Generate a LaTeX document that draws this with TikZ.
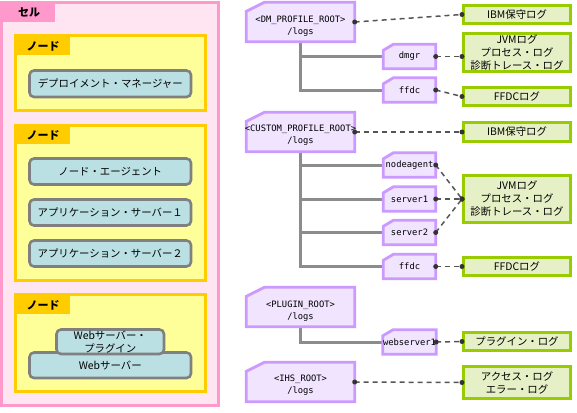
\documentclass[tikz,border=0pt]{standalone}
\usepackage{fontspec}
\setmainfont{Noto Sans CJK JP}
\newfontfamily\monof{DejaVu Sans Mono}
\definecolor{cellbg}{HTML}{FFE4F1}
\definecolor{cellbd}{HTML}{FF99CC}
\definecolor{nodebg}{HTML}{FFFF99}
\definecolor{nodebd}{HTML}{FFCC00}
\definecolor{compbg}{HTML}{BBE0E3}
\definecolor{compbd}{HTML}{808080}
\definecolor{foldbg}{HTML}{F0E4FF}
\definecolor{foldbd}{HTML}{CC99FF}
\definecolor{logbg}{HTML}{E6F0C6}
\definecolor{logbd}{HTML}{99CC00}
\definecolor{treec}{HTML}{8C8C8C}
\definecolor{dashcol}{HTML}{555555}
\definecolor{dotcol}{HTML}{333333}
\pgfdeclarelayer{bg}
\pgfdeclarelayer{fold}
\pgfsetlayers{bg,fold,main}
\tikzset{
  jp/.style={font=\fontsize{10.4}{13}\selectfont},
  cellbox/.style={draw=cellbd, fill=cellbg, line width=3pt, inner sep=0pt},
  tabbox/.style={inner sep=0pt, font=\bfseries\fontsize{11}{13}\selectfont},
  nodebox/.style={draw=nodebd, fill=nodebg, line width=3pt, inner sep=0pt},
  comp/.style={draw=compbd, fill=compbg, line width=2.6pt, rounded corners=4.5pt, inner sep=0pt, minimum width=161.5pt, jp, align=center},
  fnode/.style={inner sep=0pt},
  ftext/.style={inner sep=0pt, align=center, font=\monof\fontsize{8.8}{12}\selectfont},
  folderline/.style={draw=foldbd, fill=foldbg, line width=2.8pt},
  logbox/.style={draw=logbd, fill=logbg, line width=3pt, inner sep=0pt, minimum width=107pt, jp, align=center},
  tree/.style={draw=treec, line width=3pt},
  dashc/.style={draw=dashcol, line width=1.5pt, dash pattern=on 5pt off 4pt},
  dotc/.style={fill=dotcol},
}
\newcommand\bigfolder[1]{\begin{pgfonlayer}{fold}\draw[folderline] (#1.south west) -- ([yshift=-9pt]#1.north west) -- ([xshift=18pt]#1.north west) -- (#1.north east) -- (#1.south east) -- cycle;\end{pgfonlayer}}
\newcommand\smallfolder[1]{\begin{pgfonlayer}{fold}\draw[folderline] (#1.south west) -- ([yshift=-6pt]#1.north west) -- ([xshift=10pt]#1.north west) -- (#1.north east) -- (#1.south east) -- cycle;\end{pgfonlayer}}
\newcommand\conn[2]{\draw[dashc] (#1) -- (#2); \fill[dotc] (#1) circle (2.5pt); \fill[dotc] (#2) circle (2.5pt);}
\begin{document}
\begin{tikzpicture}[x=1pt,y=-1pt]
\useasboundingbox (0,0) rectangle (577,412);
\begin{pgfonlayer}{bg}
\fill[white] (0,0) rectangle (577,412);
\end{pgfonlayer}
% ---- left: cell ----
\node[cellbox, minimum width=217pt, minimum height=402.5pt] (cell) at (110,204.25) {};
\node[tabbox, fill=cellbd, minimum width=52pt, minimum height=19pt] (celltab) at (29,12.5) {セル};
\node[nodebox, minimum width=190.5pt, minimum height=74pt] (nodeA) at (110.25,73) {};
\node[tabbox, fill=nodebd, minimum width=54pt, minimum height=18pt] (tabA) at (43,46) {ノード};
\node[comp, minimum height=26.5pt] (dmgrc) at (110.25,83.75) {デプロイメント・マネージャー};
\node[nodebox, minimum width=190.5pt, minimum height=155pt] (nodeB) at (110.25,202.5) {};
\node[tabbox, fill=nodebd, minimum width=54pt, minimum height=18pt] (tabB) at (43,135) {ノード};
\node[comp, minimum height=26pt] (nac) at (110.25,171.5) {ノード・エージェント};
\node[comp, minimum height=26pt] (as1c) at (110.25,212.5) {アプリケーション・サーバー１};
\node[comp, minimum height=26pt] (as2c) at (110.25,253.5) {アプリケーション・サーバー２};
\node[nodebox, minimum width=190.5pt, minimum height=97pt] (nodeC) at (110.25,343) {};
\node[tabbox, fill=nodebd, minimum width=54pt, minimum height=18pt] (tabC) at (43,305) {ノード};
\node[comp, minimum height=25.5pt] (websc) at (110.25,365.25) {Webサーバー};
\node[comp, minimum width=107.5pt, minimum height=24.5pt] (plugc) at (110.25,341.75) {Webサーバー・\\プラグイン};
% ---- right: folders ----
\node[fnode, minimum width=108pt, minimum height=39pt] (dm) at (300.5,22) {};
\node[ftext] (dmt) at ([yshift=-4pt]dm.center) {<DM\_PROFILE\_ROOT>\\/logs};
\node[fnode, minimum width=108pt, minimum height=39pt] (cu) at (300.5,132) {};
\node[ftext] (cut) at ([yshift=-3pt]cu.center) {<CUSTOM\_PROFILE\_ROOT>\\/logs};
\node[fnode, minimum width=108pt, minimum height=39pt] (pl) at (300.5,307) {};
\node[ftext] (plt) at ([yshift=-4pt]pl.center) {<PLUGIN\_ROOT>\\/logs};
\node[fnode, minimum width=108pt, minimum height=39pt] (ihs) at (300.5,382) {};
\node[ftext] (ihst) at ([yshift=-3pt]ihs.center) {<IHS\_ROOT>\\/logs};
\bigfolder{dm}\bigfolder{cu}\bigfolder{pl}\bigfolder{ihs}
\node[fnode, ftext, minimum width=52pt, minimum height=24pt] (dmgr) at (409.5,56.5) {\raisebox{-2.5pt}{dmgr}};
\node[fnode, ftext, minimum width=52pt, minimum height=24pt] (ffa) at (409.5,90) {\raisebox{-2.5pt}{ffdc}};
\node[fnode, ftext, minimum width=52pt, minimum height=24pt] (na) at (409.5,165) {\raisebox{-2.5pt}{nodeagent}};
\node[fnode, ftext, minimum width=52pt, minimum height=24pt] (s1) at (409.5,199) {\raisebox{-2.5pt}{server1}};
\node[fnode, ftext, minimum width=52pt, minimum height=24pt] (s2) at (409.5,232.5) {\raisebox{-2.5pt}{server2}};
\node[fnode, ftext, minimum width=52pt, minimum height=24pt] (ffb) at (409.5,266.5) {\raisebox{-2.5pt}{ffdc}};
\node[fnode, ftext, minimum width=52pt, minimum height=24pt] (ws1) at (409.5,342) {\raisebox{-2.5pt}{webserver1}};
\smallfolder{dmgr}\smallfolder{ffa}\smallfolder{na}\smallfolder{s1}\smallfolder{s2}\smallfolder{ffb}\smallfolder{ws1}
% ---- tree lines ----
\begin{pgfonlayer}{bg}
\draw[tree] (dm.south) |- (dmgr.west);
\draw[tree] (dm.south) |- (ffa.west);
\draw[tree] (cu.south) |- (na.west);
\draw[tree] (cu.south) |- (s1.west);
\draw[tree] (cu.south) |- (s2.west);
\draw[tree] (cu.south) |- (ffb.west);
\draw[tree] (pl.south) |- (ws1.west);
\end{pgfonlayer}
% ---- log boxes ----
\node[logbox, minimum height=18pt] (ibma) at (517,14.5) {IBM保守ログ};
\node[logbox, minimum height=38pt] (jvma) at (517,52.5) {JVMログ\\プロセス・ログ\\診断トレース・ログ};
\node[logbox, minimum height=18pt] (ffdca) at (517,96.5) {FFDCログ};
\node[logbox, minimum height=19pt] (ibmb) at (517,132) {IBM保守ログ};
\node[logbox, minimum height=47pt] (jvmb) at (517,199) {JVMログ\\プロセス・ログ\\診断トレース・ログ};
\node[logbox, minimum height=18pt] (ffdcb) at (517,266.5) {FFDCログ};
\node[logbox, minimum height=18pt] (plog) at (517,341.5) {プラグイン・ログ};
\node[logbox, minimum height=32pt] (alog) at (517,382.5) {アクセス・ログ\\エラー・ログ};
% ---- connectors ----
\conn{dm.east}{ibma.west}
\conn{dmgr.east}{jvma.west |- dmgr.east}
\conn{ffa.east}{ffdca.west}
\conn{cu.east}{ibmb.west}
\conn{na.east}{jvmb.west}
\conn{s1.east}{jvmb.west}
\conn{s2.east}{jvmb.west}
\conn{ffb.east}{ffdcb.west}
\conn{ws1.east}{plog.west}
\conn{ihs.east}{alog.west}
\end{tikzpicture}
\end{document}
